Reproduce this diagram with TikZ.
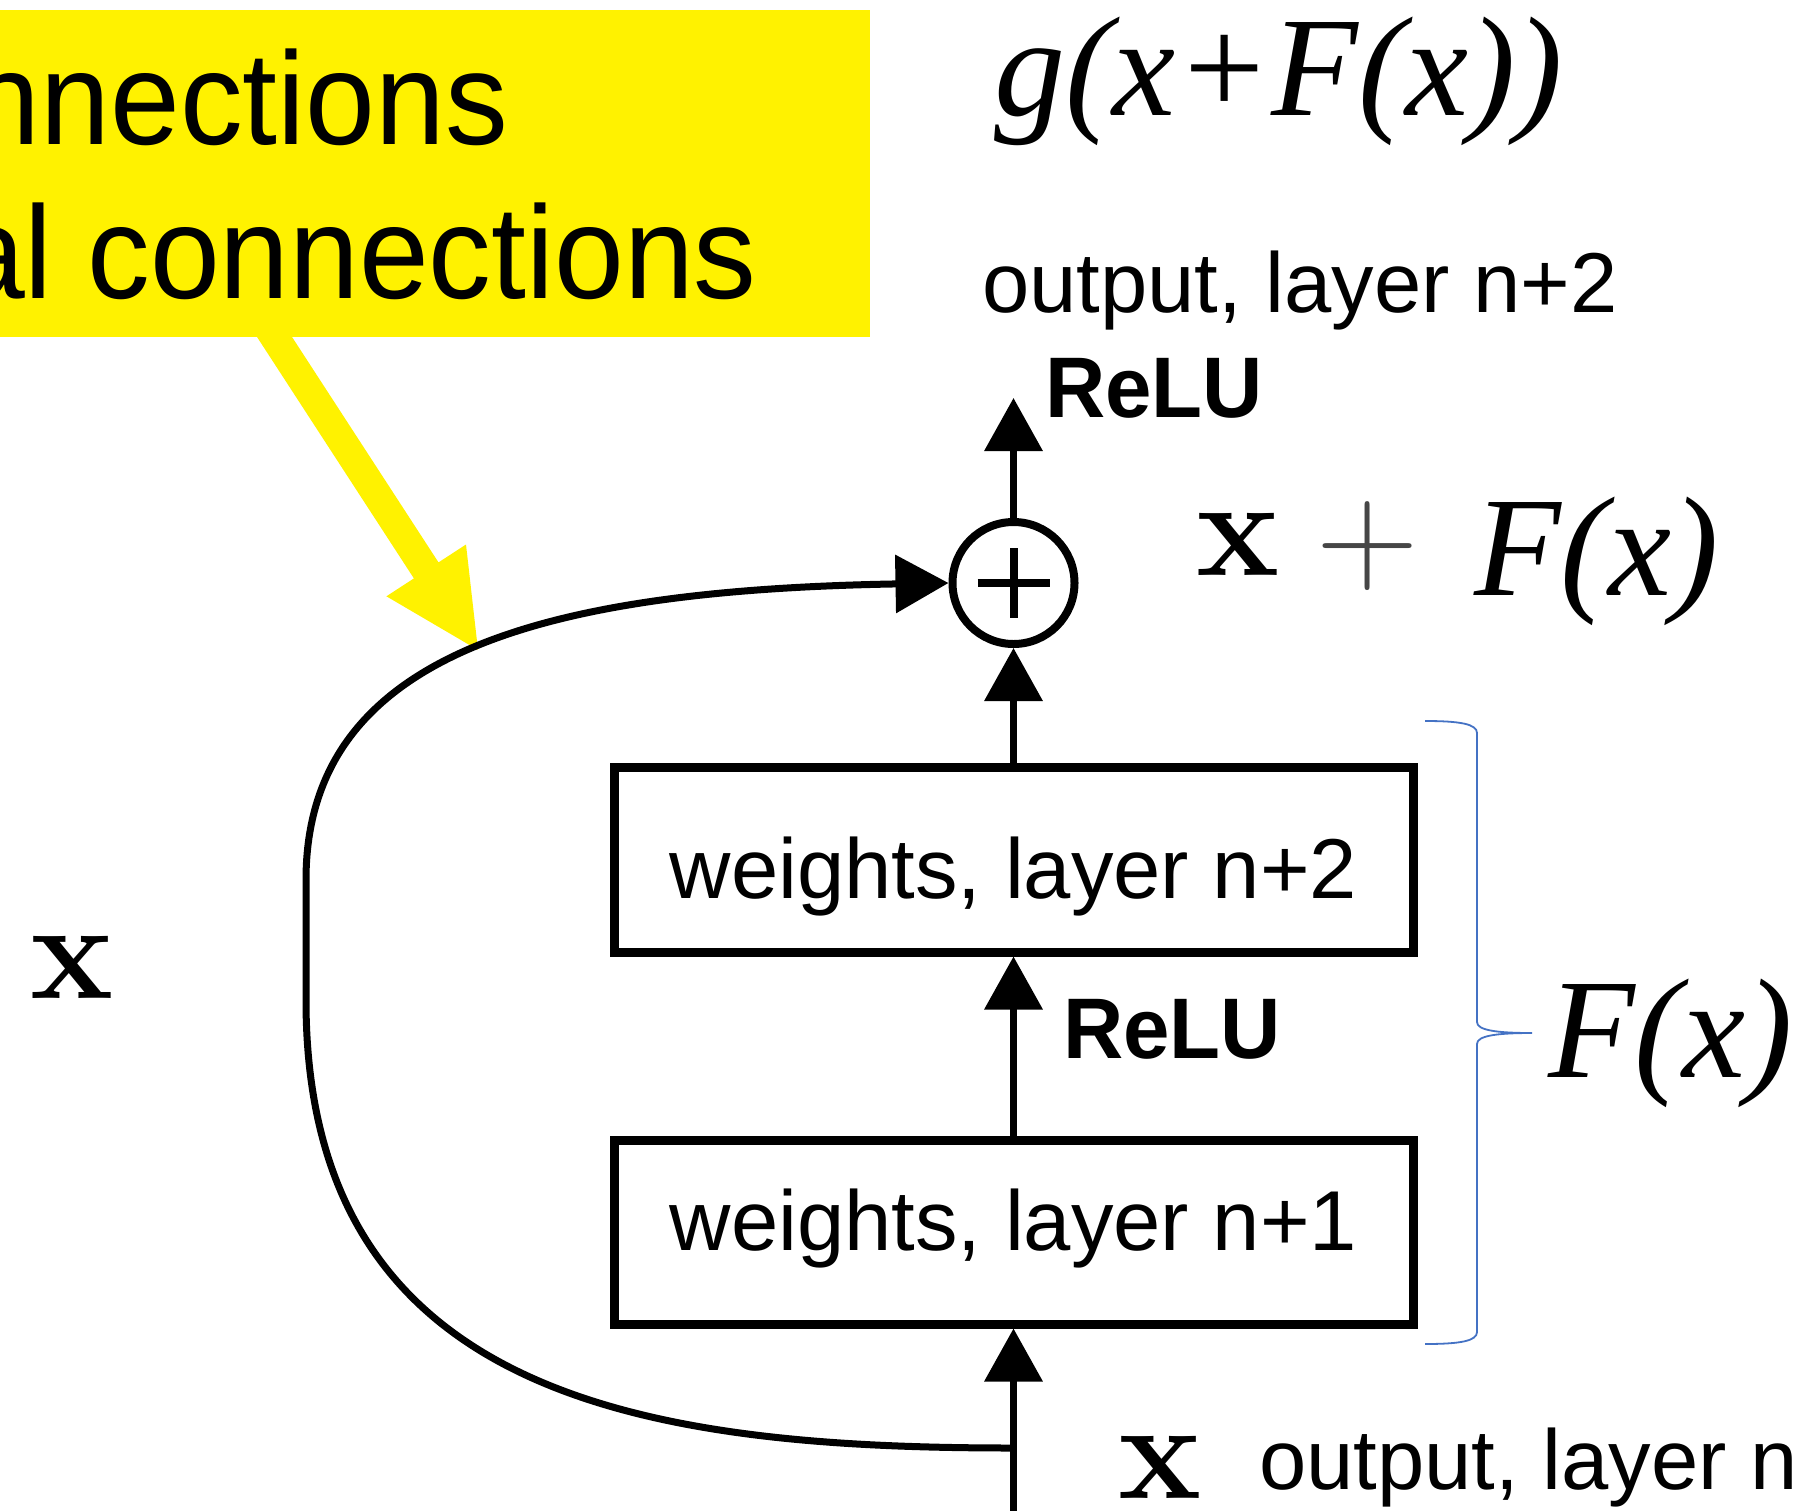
\documentclass[tikz,border=0pt]{standalone}
\usepackage{fontspec}
\usepackage{graphicx}
\newfontfamily\arialf{Liberation Sans}
\newfontfamily\tnrf{Liberation Serif}
\usetikzlibrary{arrows.meta}
\definecolor{hlyellow}{RGB}{255,242,0}
\definecolor{braceblue}{RGB}{68,114,196}
\definecolor{plusgray}{RGB}{70,70,70}
\begin{document}
\begin{tikzpicture}[x=1pt,y=-1pt,
  conn/.style={line width=7pt,-{Triangle[width=57pt,length=53pt]}},
  box/.style={draw, line width=9pt, rectangle, minimum width=799pt, inner sep=0pt},
  lbl/.style={inner sep=0pt, anchor=base west},
  arialtxt/.style={font=\arialf\fontsize{85}{100}\selectfont},
  relu/.style={font=\arialf\bfseries\fontsize{86}{100}\selectfont},
  mathtxt/.style={font=\tnrf\itshape\fontsize{142}{160}\selectfont},
  bx/.style={font=\fontsize{140}{160}\selectfont\bfseries},
  callout/.style={font=\arialf\fontsize{132}{150}\selectfont, inner sep=0pt, anchor=base east},
]
\useasboundingbox (0,0) rectangle (1812,1510);
\clip (0,0) rectangle (1812,1510);

% yellow callout
\fill[hlyellow] (-10,10) rectangle (870,337);
\fill[hlyellow] (275.8,312) -- (438.5,562.4) -- (466,544.5) -- (478,650)
  -- (386.4,596.3) -- (413.9,578.4) -- (251.2,328) -- cycle;
\node[callout] (y1) at (508,144) {\scalebox{0.95}[1]{nnections}};
\node[callout] (y2) at (757,298) {\scalebox{0.95}[1]{al connections}};

% formulas
\node[lbl, mathtxt] (gx) at (994,115) {g(x+F(x))};
\node[lbl, arialtxt] (out2) at (982,312) {output, layer n+2};
\node[lbl, relu] (relu2) at (1045,417) {\scalebox{0.97}[1]{ReLU}};

% sum node
\node[circle, draw, line width=8pt, minimum size=122pt, inner sep=0pt] (sum) at (1013.5,583) {};
\draw[line width=8pt] ([xshift=-36pt]sum.center) -- ([xshift=36pt]sum.center);
\draw[line width=8pt] ([yshift=35pt]sum.center) -- ([yshift=-35pt]sum.center);

\node[lbl, bx] (xs) at (1196,575) {x};
\node[inner sep=0pt, text=plusgray, font=\fontsize{142}{160}\selectfont] (plus) at (1368,546) {+};
\node[lbl, mathtxt] (fx1) at (1474,595) {F(x)};

% boxes
\node[box, minimum height=185pt, text height=77pt, text depth=0pt, arialtxt] (w2) at (1013.5,859.5) {weights, layer n+2};
\node[box, minimum height=184pt, text height=36pt, text depth=0pt, arialtxt] (w1) at (1013.5,1232) {weights, layer n+1};
\node[lbl, relu] (relu1) at (1063,1058) {\scalebox{0.97}[1]{ReLU}};

% coordinates
\coordinate (top) at (1013.5,398);
\coordinate (in) at (1013.5,1520);
\coordinate (j) at (1013.5,1448);

% connectors
\draw[conn] (j) .. controls (650,1448) and (306,1400) .. (306,1000)
  -- (306,880) .. controls (306,650) and (550,590) .. (sum.west);
\draw[conn] (w2.north) -- (sum.south);
\draw[conn] (sum.north) -- (top);
\draw[conn] (w1.north) -- (w2.south);
\draw[conn] (in) -- (w1.south);

% brace
\draw[braceblue, line width=1.8pt] (1425,721) .. controls (1460,721) and (1477,724) .. (1477,733)
  -- (1477,1022) .. controls (1477,1030) and (1495,1033) .. (1532,1033)
  .. controls (1495,1033) and (1477,1036) .. (1477,1044)
  -- (1477,1332) .. controls (1477,1341) and (1460,1344) .. (1425,1344);
\node[lbl, mathtxt] (fx2) at (1548,1077) {F(x)};

% x labels
\node[lbl, bx] (xl) at (30,998) {x};
\node[lbl, bx] (xb) at (1118,1498) {x};
\node[lbl, arialtxt] (out0) at (1259,1489) {output, layer n};
\end{tikzpicture}
\end{document}
